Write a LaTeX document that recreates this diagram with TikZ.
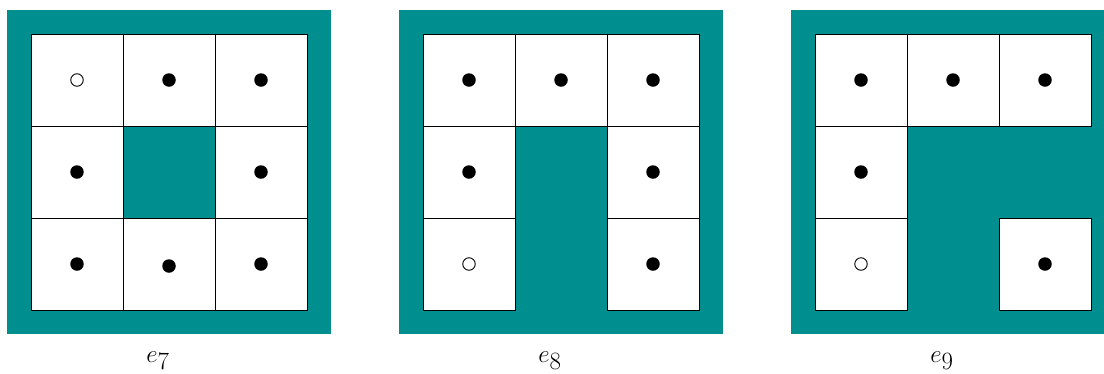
\documentclass[tikz,border=0pt]{standalone}
\usetikzlibrary{calc}
\definecolor{panelteal}{RGB}{0,142,142}
\tikzset{
  panel/.style={fill=panelteal, draw=none},
  cell/.style={draw=black, fill=white, line width=0.9pt, minimum size=92pt, inner sep=0pt, outer sep=0pt},
  fulldot/.style={circle, fill=black, draw=none, minimum size=13.5pt, inner sep=0pt},
  opendot/.style={circle, fill=white, draw=black, line width=0.9pt, minimum size=12.5pt, inner sep=0pt},
  lab/.style={inner sep=0pt, anchor=base, font=\fontsize{33}{38}\selectfont}
}
\begin{document}
\begin{tikzpicture}[x=1pt,y=-1pt]
\useasboundingbox (0,0) rectangle (1104,373);
\clip (0,0) rectangle (1104,373);
% panels
\foreach \ox/\k in {7/7,399/8,791/9}{
  \fill[panel] (\ox,10) rectangle ++(324,324);
  \node[lab] (lab\k) at (\ox+151,362) {$e_{\k}$};
}
% panel e7
\foreach \i/\j in {0/0,1/0,2/0,0/1,2/1,0/2,1/2,2/2}{
  \node[cell] (a\i\j) at (77+92*\i,80+92*\j) {};
}
\node[opendot] (ad00) at (a00) {};
\foreach \i/\j in {1/0,2/0,0/1,2/1,0/2,2/2}{
  \node[fulldot] (ad\i\j) at (a\i\j) {};
}
\node[fulldot] (ad12) at ($(a12)+(0,2)$) {};
% panel e8
\foreach \i/\j in {0/0,1/0,2/0,0/1,2/1,0/2,2/2}{
  \node[cell] (b\i\j) at (469+92*\i,80+92*\j) {};
}
\node[opendot] (bd02) at (b02) {};
\foreach \i/\j in {0/0,1/0,2/0,0/1,2/1,2/2}{
  \node[fulldot] (bd\i\j) at (b\i\j) {};
}
% panel e9
\foreach \i/\j in {0/0,1/0,2/0,0/1,0/2,2/2}{
  \node[cell] (c\i\j) at (861+92*\i,80+92*\j) {};
}
\node[opendot] (cd02) at (c02) {};
\foreach \i/\j in {0/0,1/0,2/0,0/1,2/2}{
  \node[fulldot] (cd\i\j) at (c\i\j) {};
}
\end{tikzpicture}
\end{document}
